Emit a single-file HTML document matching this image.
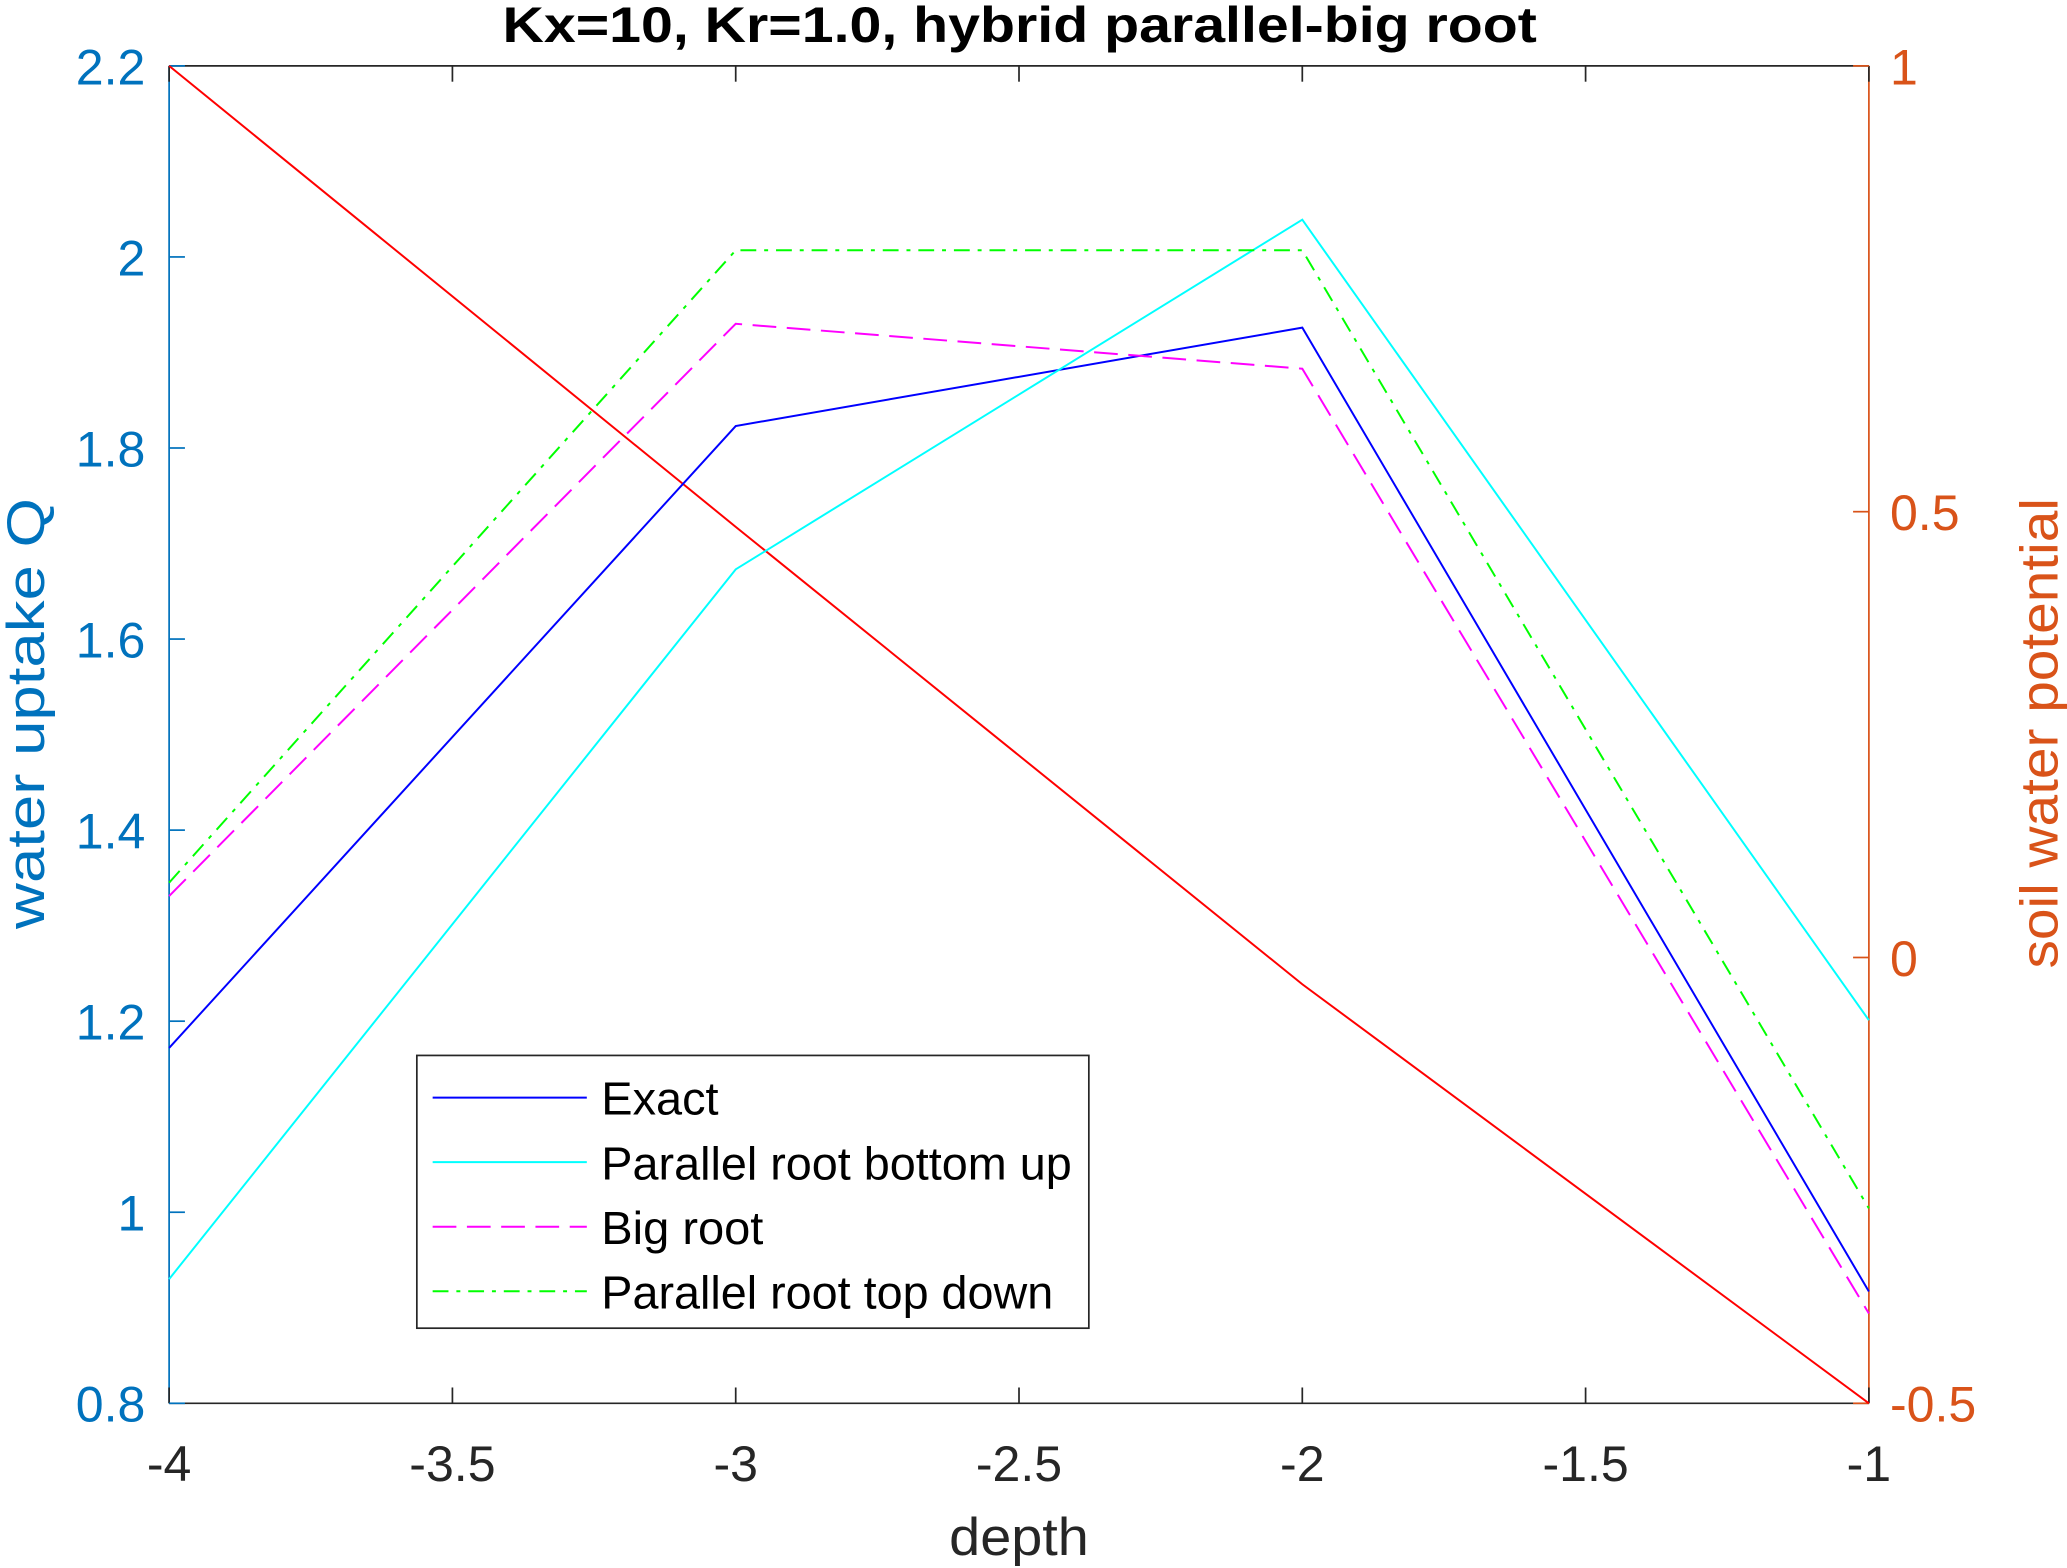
<!DOCTYPE html>
<html><head><meta charset="utf-8"><style>
html,body{margin:0;padding:0;background:#fff;}
svg{display:block;font-family:"Liberation Sans",sans-serif;}
</style></head><body>
<svg id="chart" width="2067" height="1568" viewBox="0 0 1568 1190" xmlns="http://www.w3.org/2000/svg">
<rect width="1568" height="1190" fill="#fff"/>
<g id="marks"></g>
</svg>
<script>
const depth = [-4, -3, -2, -1];
const exact = [1.172, 1.823, 1.926, 0.917];
const bottomUp = [0.930, 1.673, 2.039, 1.201];
const bigRoot = [1.331, 1.930, 1.883, 0.894];
const topDown = [1.345, 2.007, 2.007, 1.004];
const soilPotential = [1, 0.483, -0.03, -0.5];
const xTicks = [-4, -3.5, -3, -2.5, -2, -1.5, -1];
const xTickLabels = ["-4","-3.5","-3","-2.5","-2","-1.5","-1"];
const yTicks = [0.8, 1, 1.2, 1.4, 1.6, 1.8, 2, 2.2];
const yTickLabels = ["0.8","1","1.2","1.4","1.6","1.8","2","2.2"];
const y2Ticks = [-0.5, 0, 0.5, 1];
const y2TickLabels = ["-0.5","0","0.5","1"];

const L=128, R=1418, T=50, B=1065;
const xs = v => L + (v + 4) / 3 * (R - L);
const ys = v => B - (v - 0.8) / 1.4 * (B - T);
const y2s = v => B - (v + 0.5) / 1.5 * (B - T);
const NS = "http://www.w3.org/2000/svg";
const g = document.getElementById('marks');
function mk(tag, attrs, parent){
  const e = document.createElementNS(NS, tag);
  for (const k in attrs) e.setAttribute(k, attrs[k]);
  (parent||g).appendChild(e); return e;
}
const box = mk('g', {});


mk('line',{x1:L,y1:T,x2:R,y2:T,stroke:'#262626','stroke-width':1.3},box);
mk('line',{x1:L,y1:B,x2:R,y2:B,stroke:'#262626','stroke-width':1.3},box);
mk('line',{x1:L,y1:T,x2:L,y2:B,stroke:'#0072BD','stroke-width':1.3},box);
mk('line',{x1:R,y1:T,x2:R,y2:B,stroke:'#D95319','stroke-width':1.3},box);

xTicks.forEach((v,i)=>{
  const x = xs(v);
  mk('line',{x1:x,y1:B,x2:x,y2:B-12,stroke:'#262626','stroke-width':1.3},box);
  mk('line',{x1:x,y1:T,x2:x,y2:T+12,stroke:'#262626','stroke-width':1.3},box);
  const t = mk('text',{x:x,y:B+59,'text-anchor':'middle','font-size':38,fill:'#262626'});
  t.textContent = xTickLabels[i];
  
  
});
yTicks.forEach((v,i)=>{
  const y = ys(v);
  mk('line',{x1:L,y1:y,x2:L+12,y2:y,stroke:'#0072BD','stroke-width':1.3},box);
  const t = mk('text',{x:L-18,y:y+14,'text-anchor':'end','font-size':38,fill:'#0072BD'});
  t.textContent = yTickLabels[i];
  
  
});
y2Ticks.forEach((v,i)=>{
  const y = y2s(v);
  mk('line',{x1:R,y1:y,x2:R-12,y2:y,stroke:'#D95319','stroke-width':1.3},box);
  const t = mk('text',{x:R+16,y:y+14,'text-anchor':'start','font-size':38,fill:'#D95319'});
  t.textContent = y2TickLabels[i];
  
  
});

function series(vals, scale, color, dash, name){
  const p = mk('polyline',{points: vals.map((v,i)=>xs(depth[i])+','+scale(v)).join(' '), fill:'none', stroke:color, 'stroke-width':1.5, 'stroke-dasharray':dash});
  
  
}
series(soilPotential, y2s, '#ff0000', 'none', 'soil-potential-line');
series(exact, ys, '#0000ff', 'none', 'exact-line');
series(bottomUp, ys, '#00ffff', 'none', 'bottom-up-line');
series(bigRoot, ys, '#ff00ff', '18,8', 'big-root-line');
series(topDown, ys, '#00ff00', '12,6,3,6', 'top-down-line');

const lg = mk('g',{});


mk('rect',{x:316,y:801,width:510,height:207,fill:'#fff',stroke:'#262626','stroke-width':1.3},lg);
const entries = [['Exact','#0000ff','none',89],['Parallel root bottom up','#00ffff','none',357],['Big root','#ff00ff','18,8',123],['Parallel root top down','#00ff00','12,6,3,6',343]];
entries.forEach((e,i)=>{
  const y = 833 + i*49;
  const eg = mk('g',{},lg);
  
  
  mk('line',{x1:328,y1:y,x2:445,y2:y,stroke:e[1],'stroke-width':1.5,'stroke-dasharray':e[2]},eg);
  const t = mk('text',{x:456,y:y+13,'font-size':35,fill:'#000',textLength:e[3],lengthAdjust:'spacingAndGlyphs'},eg);
  t.textContent = e[0];
});

let t = mk('text',{x:381,y:32,'font-size':38,'font-weight':'bold',fill:'#000',textLength:785,lengthAdjust:'spacingAndGlyphs'});
t.textContent = 'Kx=10, Kr=1.0, hybrid parallel-big root';


t = mk('text',{x:720,y:1180,'font-size':40,fill:'#262626',textLength:106,lengthAdjust:'spacingAndGlyphs'});
t.textContent = 'depth';


t = mk('text',{x:0,y:0,'font-size':40,fill:'#0072BD',textLength:327,lengthAdjust:'spacingAndGlyphs',transform:'translate(33,705) rotate(-90)'});
t.textContent = 'water uptake Q';


t = mk('text',{x:0,y:0,'font-size':40,fill:'#D95319',textLength:357,lengthAdjust:'spacingAndGlyphs',transform:'translate(1561,735) rotate(-90)'});
t.textContent = 'soil water potential';


</script>
</body></html>
